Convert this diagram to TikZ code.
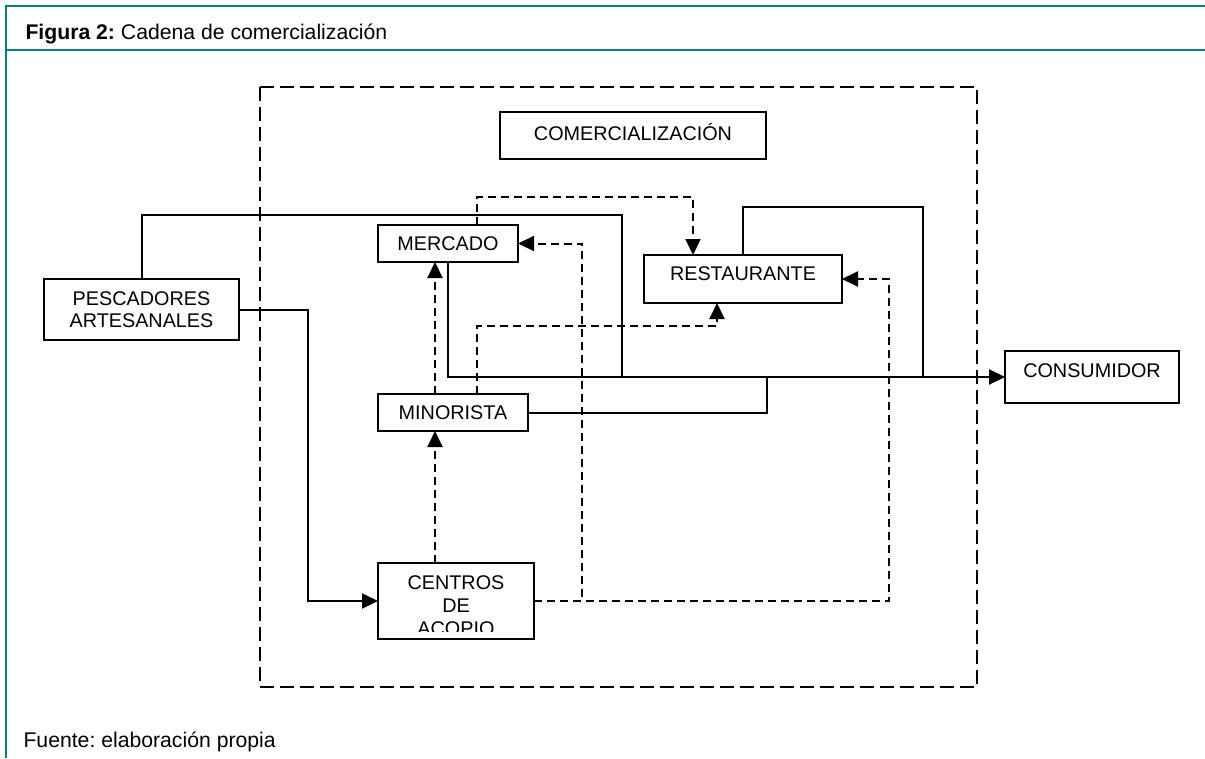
\documentclass[tikz,border=0pt]{standalone}
\usepackage{fontspec}
\setmainfont{Liberation Sans}
\usetikzlibrary{arrows.meta}
\frenchspacing

\begin{document}
\begin{tikzpicture}[x=1pt, y=-1pt,
    every node/.style={font=\fontsize{19.8}{22.6}\selectfont},
    box/.style={draw, line width=2pt, inner sep=0pt, outer sep=0pt,
      align=center, text height=14pt, text depth=0pt},
    link/.style={line width=2pt},
    dlink/.style={line width=2pt, dash pattern=on 8pt off 5pt},
    tip/.style={-{Triangle[length=16pt, width=15pt]}},
    frameline/.style={draw=teal, line width=2.4pt},
  ]
  \useasboundingbox (0,0) rectangle (1205,758);

  % marco de la figura
  \draw[frameline] (1205,6) -- (6,6) -- (6,758);
  \draw[frameline] (6,50) -- (1205,50);
  \node[anchor=base west, font=\fontsize{21.2}{25}\selectfont] (titulo) at (22,39)
    {\textbf{Figura 2:} Cadena de comercialización};
  \node[anchor=base west, font=\fontsize{21.2}{25}\selectfont] (fuente) at (20,747)
    {Fuente: elaboración propia};

  % zona de comercializacion
  \draw[line width=2pt, dash pattern=on 14pt off 6pt] (260,87) rectangle (977,687);

  \node[box, minimum width=266pt, minimum height=47pt, text depth=5pt]
    (comerc) at (633,135.5) {COMERCIALIZACIÓN};
  \node[box, minimum width=195pt, minimum height=61pt, text height=36.6pt]
    (pescadores) at (141.5,309.5) {PESCADORES\\ARTESANALES};
  \node[box, minimum width=140pt, minimum height=37pt]
    (mercado) at (448,243.5) {MERCADO};
  \node[box, minimum width=198pt, minimum height=48pt, text depth=10.6pt]
    (restaurante) at (743,279) {RESTAURANTE};
  \node[box, minimum width=150pt, minimum height=37pt]
    (minorista) at (453,412.5) {MINORISTA};
  \node[box, minimum width=156pt, minimum height=76pt,
        font=\fontsize{19.8}{23.3}\selectfont, text height=69.2pt]
    (centros) at (456,601) {CENTROS\\DE\\ACOPIO};
  \node[box, minimum width=174pt, minimum height=52pt, text depth=13.4pt]
    (consumidor) at (1092,377) {CONSUMIDOR};
  % el texto queda cortado por abajo
  \fill[white] ([shift={(2,-7)}]centros.south west)
    rectangle ([shift={(-2,-1)}]centros.south east);

  \coordinate (topbend) at (622,215);
  \coordinate (joinA)   at (622,377);
  \coordinate (restbend) at (923,207);
  \coordinate (joinB)   at (923,377);
  \coordinate (joinC)   at (767,377);
  \coordinate (pesdrop) at (308,601);
  \coordinate (dtop)    at (693,197);
  \coordinate (mkback)  at (582,243.5);
  \coordinate (rsback)  at (889,279);
  \coordinate (rsup)    at (717,326);

  % flujos directos
  \draw[link, tip] (mercado.south) |- (consumidor.west);
  \draw[link] (pescadores.north) |- (topbend) -- (joinA);
  \draw[link] (restaurante.north) |- (restbend) -- (joinB);
  \draw[link] (minorista.east) -| (joinC);
  \draw[link, tip] (pescadores.east) -| (pesdrop) -- (centros.west);

  % flujos de intermediarios
  \draw[dlink, tip] ([xshift=29pt]mercado.north) |- (dtop) -- (dtop |- restaurante.north);
  \draw[dlink, tip] (centros.east) -| (mkback) -- (mercado.east);
  \draw[dlink, tip] (centros.east) -| (rsback) -- (restaurante.east);
  \draw[dlink, tip] ([xshift=24pt]minorista.north) |- (rsup) -- (rsup |- restaurante.south);
  \draw[dlink, tip] ([xshift=-18pt]minorista.north) -- ([xshift=-18pt]minorista.north |- mercado.south);
  \draw[dlink, tip] ([xshift=-21pt]centros.north) -- ([xshift=-21pt]centros.north |- minorista.south);
\end{tikzpicture}
\end{document}
